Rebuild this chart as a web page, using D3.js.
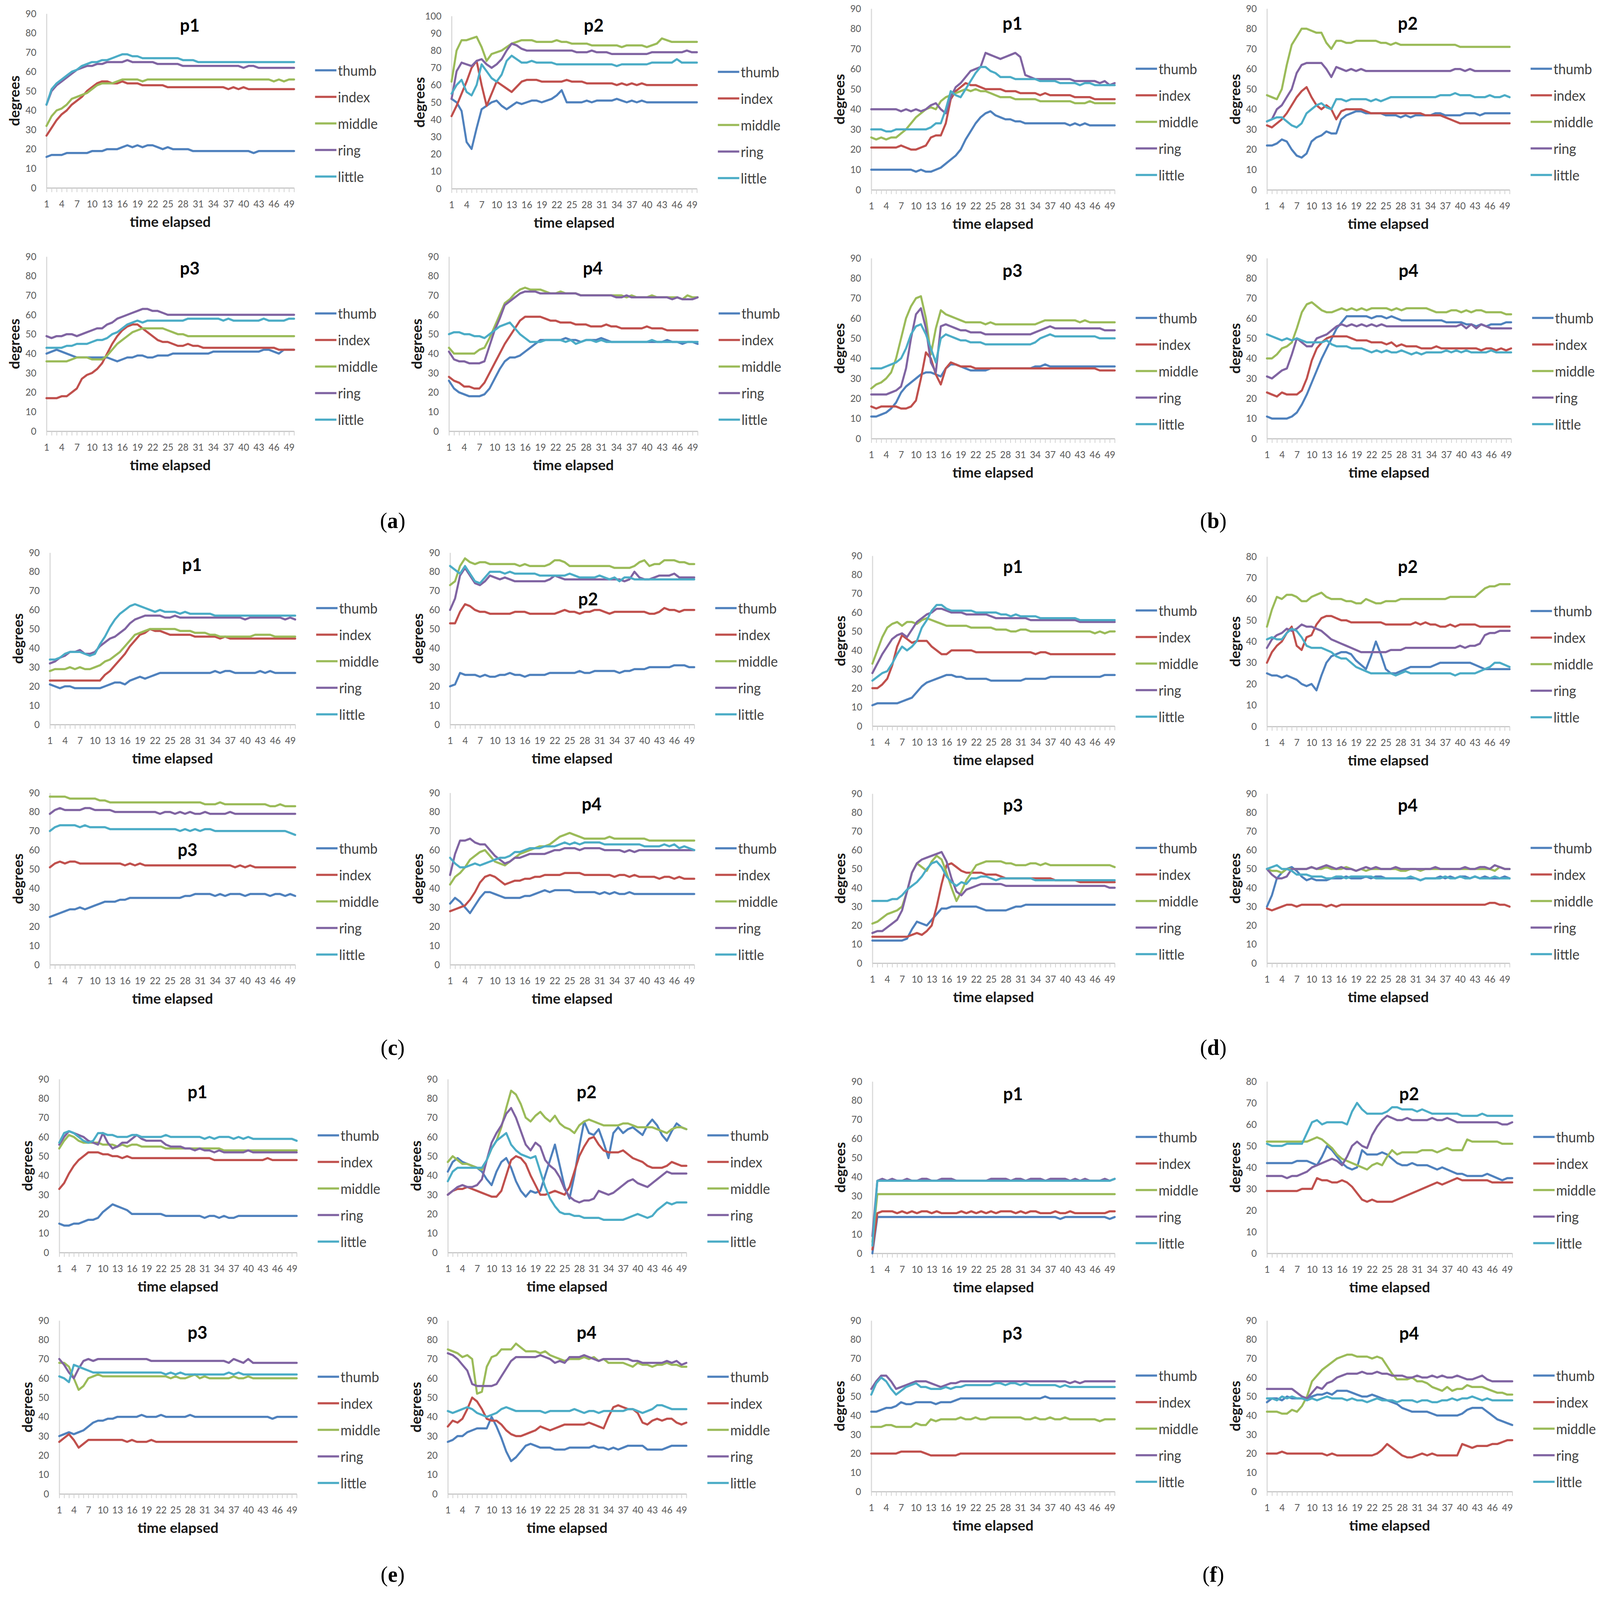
<!DOCTYPE html>
<html>
<head>
<meta charset="utf-8">
<script src="https://cdn.jsdelivr.net/npm/d3@7"></script>
<style>
  html, body { margin: 0; background: #fff; overflow: hidden; }
  svg { display: block; }
</style>
</head>
<body>
<svg id="fig"></svg>
<script>
// ---- categories / labels ----
const categories = [1,2,3,4,5,6,7,8,9,10,11,12,13,14,15,16,17,18,19,20,21,22,23,24,25,
  26,27,28,29,30,31,32,33,34,35,36,37,38,39,40,41,42,43,44,45,46,47,48,49,50];
const tickLabels = [1,4,7,10,13,16,19,22,25,28,31,34,37,40,43,46,49];
const fingers = ["thumb", "index", "middle", "ring", "little"];
const groupLabels = ["a", "b", "c", "d", "e", "f"];

// ---- (a) ----
const a1Thumb  = [16,17,17,17,18,18,18,18,18,19, 19,19,20,20,20,21,22,21,22,21, 22,22,21,20,21,20,20,20,20,19, 19,19,19,19,19,19,19,19,19,19, 19,18,19,19,19,19,19,19,19,19];
const a1Index  = [27,31,35,38,40,43,45,47,50,52, 54,55,55,54,54,55,54,54,54,53, 53,53,53,53,52,52,52,52,52,52, 52,52,52,52,52,52,51,52,51,52, 51,51,51,51,51,51,51,51,51,51];
const a1Middle = [32,37,40,41,43,46,47,48,49,51, 53,54,54,54,55,56,56,56,56,55, 56,56,56,56,56,56,56,56,56,56, 56,56,56,56,56,56,56,56,56,56, 56,56,56,56,56,55,56,55,56,56];
const a1Ring   = [43,50,53,55,57,59,61,62,63,63, 64,64,65,65,65,65,66,65,65,65, 65,65,64,64,64,64,64,63,63,63, 63,63,63,63,63,63,63,63,63,62, 63,63,62,62,62,62,62,62,62,62];
const a1Little = [43,51,54,56,58,60,61,63,64,65, 65,66,66,67,68,69,69,68,68,67, 67,67,67,67,67,67,67,66,66,66, 65,65,65,65,65,65,65,65,65,65, 65,65,65,65,65,65,65,65,65,65];

const a2Thumb  = [52,50,45,27,23,35,46,48,50,51, 48,46,48,50,49,50,51,51,50,51, 52,54,57,50,50,50,50,51,50,51, 51,51,51,52,51,50,51,50,51,50, 50,50,50,50,50,50,50,50,50,50];
const a2Index  = [42,48,55,62,70,74,60,48,55,62, 60,58,56,59,62,63,63,63,62,62, 62,62,62,63,62,62,62,61,61,61, 61,61,61,60,61,60,61,60,61,60, 60,60,60,60,60,60,60,60,60,60];
const a2Middle = [62,80,86,86,87,88,82,74,78,79, 80,82,84,85,86,86,86,85,85,85, 85,86,85,85,84,84,84,84,83,83, 83,83,83,83,82,83,83,83,83,82, 83,84,87,86,85,85,85,85,85,85];
const a2Ring   = [52,68,73,72,71,74,75,72,70,72, 75,80,84,83,81,80,80,80,80,80, 80,80,80,80,80,79,79,79,80,79, 79,79,78,78,78,78,78,78,78,78, 79,79,79,79,79,79,79,80,79,79];
const a2Little = [55,60,63,56,54,60,72,68,64,62, 66,74,77,75,73,73,74,73,73,73, 73,72,72,72,72,72,72,72,72,72, 72,72,72,71,72,72,72,72,72,72, 73,73,73,73,73,75,73,73,73,73];

const a3Thumb  = [40,41,42,41,40,39,38,38,38,38, 38,38,38,37,36,37,38,38,39,39, 38,38,39,39,39,40,40,40,40,40, 40,40,40,41,41,41,41,41,41,41, 41,41,41,42,42,41,40,42,42,42];
const a3Index  = [17,17,17,18,18,20,22,27,29,30, 32,35,40,45,49,52,54,55,55,53, 51,49,47,46,46,45,44,44,45,44, 44,43,43,43,43,43,43,43,43,43, 43,43,43,43,43,43,42,42,42,42];
const a3Middle = [36,36,36,36,36,37,38,38,38,37, 37,37,39,42,45,47,49,51,52,53, 53,53,53,53,52,51,50,50,49,49, 49,49,49,49,49,49,49,49,49,49, 49,49,49,49,49,49,49,49,49,49];
const a3Ring   = [49,48,49,49,50,50,49,50,51,52, 53,53,55,56,58,59,60,61,62,63, 63,62,62,61,60,60,60,60,60,60, 60,60,60,60,60,60,60,60,60,60, 60,60,60,60,60,60,60,60,60,60];
const a3Little = [43,43,43,43,44,44,45,45,45,46, 47,47,48,50,51,53,55,56,57,56, 57,57,57,57,57,57,57,57,58,58, 58,58,58,58,58,57,58,57,57,57, 57,57,57,58,57,57,57,57,58,58];

const a4Thumb  = [26,22,20,19,18,18,18,19,22,27, 32,36,38,38,39,41,43,45,47,47, 47,47,47,48,47,47,46,47,47,47, 48,47,46,46,46,46,46,46,46,46, 46,46,46,47,46,46,45,46,46,45];
const a4Index  = [28,26,25,23,23,22,22,25,30,35, 40,45,49,53,57,59,59,59,59,58, 57,57,56,56,56,55,55,55,54,54, 54,55,54,54,53,53,53,53,53,54, 53,53,53,52,52,52,52,52,52,52];
const a4Middle = [43,40,40,40,40,40,42,43,48,54, 60,66,68,71,73,74,73,73,73,72, 71,71,72,71,71,71,70,70,70,70, 70,70,70,70,70,69,70,69,69,69, 70,69,69,69,69,69,68,70,69,69];
const a4Ring   = [41,37,36,36,35,35,35,36,44,52, 58,65,67,69,71,72,72,72,71,71, 71,71,71,71,71,71,70,70,70,70, 70,70,70,69,69,70,69,69,69,69, 69,69,69,69,68,69,68,68,68,69];
const a4Little = [50,51,51,50,50,49,49,48,50,52, 54,55,56,53,50,48,46,46,46,47, 47,47,47,46,47,45,46,47,47,46, 47,46,46,46,46,46,46,46,46,46, 47,46,46,46,46,46,46,46,46,46];

// ---- (b) ----
const b1Thumb  = [10,10,10,10,10,10,10,10,10,9, 10,9,9,10,11,13,15,17,20,25, 29,33,36,38,39,37,36,35,35,34, 34,33,33,33,33,33,33,33,33,33, 32,33,32,33,32,32,32,32,32,32];
const b1Index  = [21,21,21,21,21,21,22,21,20,20, 21,22,26,27,27,33,45,49,51,53, 52,52,51,50,50,50,50,49,49,49, 48,48,48,48,47,48,47,47,47,47, 47,46,46,46,46,45,45,45,45,45];
const b1Middle = [26,25,26,25,26,26,28,30,33,36, 38,40,41,40,44,46,47,48,49,50, 49,50,49,49,48,47,46,46,46,45, 45,45,45,45,44,44,44,44,44,44, 44,43,43,43,44,43,43,43,43,43];
const b1Ring   = [40,40,40,40,40,40,39,40,39,40, 39,40,42,43,40,38,46,51,53,56, 59,60,61,68,67,66,65,66,67,68, 66,57,56,55,55,55,55,55,55,55, 55,54,54,54,54,54,53,54,52,53];
const b1Little = [30,30,30,29,29,30,30,30,30,30, 30,30,31,33,33,40,49,47,46,50, 54,58,61,61,59,58,56,56,56,55, 55,55,55,55,54,54,54,54,53,53, 53,53,52,53,53,52,52,52,52,52];

const b2Thumb  = [22,22,23,25,24,20,17,16,18,24, 26,27,29,28,28,35,37,38,39,39, 38,38,38,38,37,37,37,36,37,36, 37,37,37,37,38,38,37,37,37,37, 38,38,38,37,38,38,38,38,38,38];
const b2Index  = [32,31,33,35,38,42,46,49,51,46, 42,40,42,40,35,39,40,40,40,40, 39,38,38,38,38,38,38,38,38,38, 38,38,37,37,37,37,36,35,34,33, 33,33,33,33,33,33,33,33,33,33];
const b2Middle = [47,46,45,50,62,72,76,80,80,79, 78,78,73,70,74,74,73,73,74,74, 74,74,74,73,73,72,73,72,72,72, 72,72,72,72,72,72,72,72,72,71, 71,71,71,71,71,71,71,71,71,71];
const b2Ring   = [34,35,40,42,46,50,58,62,63,63, 63,63,60,56,61,60,59,60,59,60, 59,59,59,59,59,59,59,59,59,59, 59,59,59,59,59,59,59,59,60,60, 59,60,59,59,59,59,59,59,59,59];
const b2Little = [34,35,36,36,34,32,31,33,38,40, 42,43,41,40,45,45,44,45,45,45, 45,44,45,44,45,46,46,46,46,46, 46,46,46,46,46,47,47,47,48,47, 47,47,46,46,46,47,46,46,47,46];

const b3Thumb  = [11,11,12,13,15,18,23,26,28,30, 32,33,33,32,31,35,37,37,36,35, 34,34,34,34,35,35,35,35,35,35, 35,35,35,36,36,37,36,36,36,36, 36,36,36,36,36,36,36,36,36,36];
const b3Index  = [16,15,16,16,16,16,15,15,16,19, 30,43,40,32,27,35,38,37,36,36, 36,35,35,35,35,35,35,35,35,35, 35,35,35,35,35,35,35,35,35,35, 35,35,35,35,35,35,34,34,34,34];
const b3Middle = [25,27,28,30,33,40,50,60,66,70, 71,60,42,55,64,62,61,60,59,58, 58,58,58,57,58,57,57,57,57,57, 57,57,57,57,58,59,59,59,59,59, 59,59,58,59,58,58,58,58,58,58];
const b3Ring   = [22,22,22,22,23,24,26,35,50,62, 65,55,38,33,56,57,56,55,54,54, 53,53,53,52,52,52,52,52,52,52, 52,52,52,53,54,55,56,55,55,55, 55,55,55,55,55,55,55,54,54,54];
const b3Little = [35,35,35,36,37,38,40,45,52,56, 57,52,45,38,50,52,51,50,49,49, 48,48,48,47,47,47,47,47,47,47, 47,47,47,48,50,51,52,51,51,51, 51,51,51,51,51,51,50,50,50,50];

const b4Thumb  = [11,10,10,10,10,11,13,17,22,28, 34,40,45,50,55,58,61,61,61,61, 61,60,61,61,60,61,60,59,59,59, 59,59,59,59,59,59,58,58,58,58, 57,57,56,57,56,57,57,57,58,58];
const b4Index  = [23,22,21,23,22,22,22,24,30,39, 45,48,50,51,51,51,51,50,49,49, 49,48,48,48,47,48,46,47,46,46, 46,45,45,45,46,45,45,45,45,45, 45,45,45,44,45,45,44,45,44,45];
const b4Middle = [40,40,42,45,46,48,55,63,67,68, 66,64,63,63,64,65,64,65,64,65, 64,65,65,65,65,64,65,64,65,65, 65,65,65,64,63,63,63,64,64,63, 64,63,64,64,63,63,63,63,62,62];
const b4Ring   = [31,30,32,34,35,42,50,48,46,46, 50,51,52,54,56,57,56,57,56,57, 56,57,56,57,56,56,56,56,56,56, 56,56,56,56,56,56,56,56,56,57, 55,57,55,57,56,55,55,55,55,55];
const b4Little = [52,51,50,49,50,49,50,49,48,48, 48,48,49,47,46,46,46,45,45,45, 44,43,44,43,44,43,43,44,43,42, 43,42,43,43,43,43,44,43,44,43, 44,43,43,43,43,44,43,43,43,43];

// ---- (c) ----
const c1Thumb  = [21,20,19,20,20,19,19,19,19,19, 19,20,21,22,22,21,23,24,25,24, 25,26,27,27,27,27,27,27,27,27, 27,27,27,28,27,28,28,27,27,27, 27,27,28,27,28,27,27,27,27,27];
const c1Index  = [23,23,23,23,23,23,23,23,23,23, 23,26,28,31,34,37,41,44,47,48, 50,49,49,48,47,47,47,47,47,46, 46,46,46,46,45,46,45,45,45,45, 45,45,45,45,45,45,45,45,45,45];
const c1Middle = [28,29,29,29,30,29,30,29,29,30, 31,33,34,36,38,41,44,47,48,49, 50,50,50,50,50,50,49,49,49,48, 48,48,47,47,46,46,46,46,46,46, 46,47,47,47,47,46,46,46,46,46];
const c1Ring   = [32,33,35,36,38,38,39,37,37,38, 41,43,45,46,48,50,53,55,56,57, 57,57,57,56,56,57,56,56,56,56, 56,56,56,56,56,56,56,56,56,55, 56,56,56,56,56,56,56,55,56,55];
const c1Little = [34,34,35,37,38,38,38,37,36,37, 42,46,51,55,58,60,62,63,62,61, 60,59,60,59,59,59,58,59,58,58, 58,58,58,57,57,57,57,57,57,57, 57,57,57,57,57,57,57,57,57,57];

const c2Thumb  = [20,21,27,26,26,26,25,26,25,25, 26,26,27,26,26,25,26,26,26,26, 27,27,27,27,27,27,28,27,27,28, 28,28,28,28,27,28,28,29,29,29, 30,30,30,30,30,31,31,31,30,30];
const c2Index  = [53,53,59,63,62,60,59,59,58,58, 58,58,58,59,59,59,58,58,58,58, 58,58,59,60,59,59,58,59,59,60, 60,59,58,59,59,59,59,59,59,59, 58,58,59,61,60,60,59,60,60,60];
const c2Middle = [73,75,83,87,85,84,85,85,84,84, 84,84,84,84,83,84,83,83,83,83, 84,86,86,85,83,83,83,83,83,83, 83,83,83,82,82,82,82,83,85,86, 83,84,84,86,86,86,85,85,84,84];
const c2Ring   = [60,66,78,82,78,74,73,75,78,77, 76,77,76,75,75,75,75,75,75,75, 76,78,77,76,76,76,76,76,76,76, 76,76,76,76,76,75,76,80,77,76, 76,77,78,78,78,79,77,77,77,77];
const c2Little = [83,81,79,83,79,75,74,77,80,80, 80,79,80,79,79,79,79,79,78,78, 78,78,78,78,79,78,77,77,77,77, 78,77,76,77,75,77,77,76,76,76, 76,76,76,76,76,76,76,76,76,76];

const c3Thumb  = [25,26,27,28,29,29,30,29,30,31, 32,33,33,33,34,34,35,35,35,35, 35,35,35,35,35,35,35,36,36,37, 37,37,37,36,37,36,37,37,37,36, 37,37,37,37,36,37,37,36,37,36];
const c3Index  = [51,53,54,53,54,54,53,53,53,53, 53,53,53,53,53,52,53,52,53,52, 52,52,52,52,52,52,52,52,52,52, 52,52,52,52,52,52,52,51,52,51, 52,51,51,51,51,51,51,51,51,51];
const c3Middle = [88,88,88,88,87,87,87,87,87,87, 86,86,85,85,85,85,85,85,85,85, 85,85,85,85,85,85,85,85,85,85, 85,84,84,84,85,84,84,84,84,84, 84,84,84,84,83,83,84,83,83,83];
const c3Ring   = [79,81,82,81,81,81,81,82,82,81, 81,81,81,80,80,80,80,80,80,80, 80,80,79,80,80,79,80,79,80,79, 79,80,79,79,79,79,80,79,79,79, 79,79,79,79,79,79,79,79,79,79];
const c3Little = [70,72,73,73,73,73,72,73,72,72, 72,72,71,71,71,71,71,71,71,71, 71,71,71,71,71,71,70,71,70,71, 70,71,71,70,70,70,70,70,70,70, 70,70,70,70,70,70,70,70,69,68];

const c4Thumb  = [32,35,33,30,27,31,35,38,38,37, 36,35,35,35,35,36,36,37,38,39, 38,39,39,39,39,38,38,38,38,38, 37,38,37,38,37,37,38,37,37,37, 37,37,37,37,37,37,37,37,37,37];
const c4Index  = [28,29,30,31,34,38,43,46,47,46, 44,42,43,44,44,45,45,46,46,47, 47,47,47,48,48,48,48,47,47,47, 47,47,47,46,47,47,46,47,46,46, 46,46,45,46,46,45,46,45,45,45];
const c4Middle = [42,46,48,51,55,57,59,60,57,54, 53,52,54,56,58,59,60,61,62,62, 63,65,67,68,69,68,67,66,66,66, 66,66,67,66,66,66,66,66,66,66, 65,65,65,65,65,65,65,65,65,65];
const c4Ring   = [47,58,65,65,66,64,63,63,60,57, 55,53,54,56,56,57,58,58,58,58, 59,60,60,61,61,61,60,61,61,61, 61,60,60,60,60,59,60,59,60,60, 60,60,60,60,60,60,60,60,60,60];
const c4Little = [56,53,51,51,52,53,52,53,54,55, 56,56,57,59,59,60,61,61,61,62, 62,62,63,64,63,64,63,64,64,64, 64,63,63,63,63,63,63,63,63,62, 62,62,62,63,62,63,61,62,61,60];

// ---- (d) ----
const d1Thumb  = [11,12,12,12,12,12,13,14,15,18, 21,23,24,25,26,27,27,26,26,25, 25,25,25,25,24,24,24,24,24,24, 24,25,25,25,25,25,26,26,26,26, 26,26,26,26,26,26,26,27,27,27];
const d1Index  = [20,20,22,25,32,42,48,46,44,45, 45,45,42,40,38,38,40,40,40,40, 40,39,39,39,39,39,39,39,39,39, 39,39,39,38,39,39,38,38,38,38, 38,38,38,38,38,38,38,38,38,38];
const d1Middle = [33,40,47,52,54,55,53,55,55,54, 56,57,56,55,54,53,53,53,53,53, 52,52,52,52,52,51,51,51,50,50, 51,51,50,50,50,50,50,50,50,50, 50,50,50,50,50,49,50,49,50,50];
const d1Ring   = [28,33,38,42,46,48,49,47,51,55, 57,59,60,62,62,61,60,60,60,59, 59,59,59,59,58,57,57,57,57,57, 57,57,56,56,56,56,56,56,56,56, 56,56,55,55,55,55,55,55,55,55];
const d1Little = [24,26,28,29,33,38,42,40,42,45, 52,56,61,64,64,62,61,61,61,61, 61,60,60,60,60,60,59,59,58,59, 58,58,58,58,57,57,57,57,57,57, 57,57,56,56,56,56,56,56,56,56];

const d2Thumb  = [25,24,24,23,24,23,22,20,19,20, 17,24,30,33,34,35,35,34,31,29, 27,33,40,34,27,25,25,26,27,28, 28,28,28,28,29,30,30,30,30,30, 30,30,29,28,27,27,27,27,27,27];
const d2Index  = [30,35,38,40,44,47,38,36,42,43, 48,51,52,52,51,50,50,49,49,49, 49,49,49,49,48,48,48,48,48,48, 49,48,49,48,48,47,47,48,47,48, 48,48,48,47,47,47,47,47,47,47];
const d2Middle = [47,55,61,60,62,62,61,59,59,61, 62,63,61,60,60,60,59,59,58,58, 60,59,58,58,59,59,59,60,60,60, 60,60,60,60,60,60,60,61,61,61, 61,61,61,63,65,66,66,67,67,67];
const d2Ring   = [37,41,43,44,46,45,46,48,47,47, 46,45,43,41,40,39,38,37,36,35, 35,35,35,35,35,36,36,36,37,37, 37,37,37,37,37,37,37,37,37,38, 37,38,38,39,43,44,44,45,45,45];
const d2Little = [41,42,41,41,44,46,45,42,38,37, 37,37,36,35,33,32,32,30,28,27, 26,25,25,25,25,25,24,25,26,25, 25,25,25,25,25,25,25,25,24,25, 25,25,25,26,27,28,30,30,29,28];

const d3Thumb  = [12,12,12,12,12,12,12,13,18,22, 21,20,23,26,29,29,30,30,30,30, 30,30,29,28,28,28,28,28,29,30, 30,31,31,31,31,31,31,31,31,31, 31,31,31,31,31,31,31,31,31,31];
const d3Index  = [14,14,14,14,14,14,14,14,15,16, 15,17,20,30,42,52,53,51,49,48, 48,48,48,47,47,47,46,45,45,45, 45,45,45,45,45,45,45,44,44,44, 44,44,43,43,43,43,43,43,43,43];
const d3Middle = [21,22,24,26,27,28,30,38,48,53, 51,49,54,57,55,48,40,33,38,44, 48,52,53,54,54,54,54,53,53,52, 52,52,53,53,52,53,52,52,52,52, 52,52,52,52,52,52,52,52,52,51];
const d3Ring   = [16,17,17,19,21,23,28,38,48,53, 55,56,57,58,59,54,45,38,36,39, 40,41,42,42,42,42,42,41,41,41, 41,41,41,41,41,41,41,41,41,41, 41,41,41,41,41,41,41,41,40,40];
const d3Little = [33,33,33,33,34,34,36,39,41,43, 46,50,53,54,51,46,43,41,43,42, 45,45,46,46,45,44,45,45,45,45, 45,45,45,44,44,44,44,44,44,44, 44,44,44,44,44,44,44,44,44,44];

const d4Thumb  = [30,36,45,48,50,51,49,46,44,45, 44,44,44,45,45,45,46,45,45,45, 46,45,46,46,45,45,45,45,45,45, 45,44,45,45,45,46,45,46,45,46, 46,45,46,45,46,45,45,45,46,45];
const d4Index  = [29,28,29,30,31,31,30,31,31,31, 31,31,30,31,30,31,31,31,31,31, 31,31,31,31,31,31,31,31,31,31, 31,31,31,31,31,31,31,31,31,31, 31,31,31,31,31,32,32,31,31,30];
const d4Middle = [50,49,49,48,50,50,50,50,50,51, 50,50,51,50,50,50,51,50,49,50, 49,50,50,50,50,50,50,49,49,50, 50,49,50,50,50,50,50,50,50,50, 50,50,50,50,50,50,49,51,50,50];
const d4Ring   = [50,47,45,45,46,50,50,50,50,51, 50,51,52,51,50,51,50,50,49,50, 51,50,51,50,50,50,51,50,50,50, 50,50,50,50,51,50,50,50,50,50, 51,50,50,51,51,50,52,51,50,50];
const d4Little = [50,51,52,50,50,49,47,47,47,46, 46,46,45,45,46,46,45,46,46,46, 46,46,45,45,45,45,45,45,45,46, 45,44,45,45,45,45,46,45,45,46, 45,45,46,45,45,45,46,45,45,45];

// ---- (e) ----
const e1Thumb  = [15,14,14,15,15,16,17,17,18,21, 23,25,24,23,22,20,20,20,20,20, 20,20,19,19,19,19,19,19,19,19, 18,19,19,18,19,18,18,19,19,19, 19,19,19,19,19,19,19,19,19,19];
const e1Index  = [33,36,41,45,48,50,52,52,52,51, 51,50,50,49,50,49,49,49,49,49, 49,49,49,49,49,49,49,49,49,49, 49,49,48,48,48,48,48,48,48,48, 48,48,48,49,48,48,48,48,48,48];
const e1Middle = [54,58,61,60,58,57,57,57,57,56, 56,56,55,56,55,56,56,55,55,55, 55,55,54,54,54,54,54,54,54,54, 54,54,54,54,53,53,53,53,53,53, 53,53,53,53,53,53,53,53,53,53];
const e1Ring   = [56,60,63,62,61,60,58,57,56,62, 57,54,55,57,57,59,61,59,58,58, 58,58,56,55,55,55,54,54,53,54, 53,53,52,53,52,52,52,52,52,53, 52,52,52,52,52,52,52,52,52,52];
const e1Little = [57,62,63,62,60,58,57,58,62,62, 61,61,60,60,60,61,61,60,60,60, 60,60,61,60,60,60,60,60,60,60, 59,60,59,60,60,60,59,60,59,60, 59,59,59,59,59,59,59,59,59,58];

const e2Thumb  = [42,47,49,47,46,45,44,42,38,35, 42,47,49,44,37,32,29,32,31,32, 40,48,56,45,34,28,40,55,68,62, 61,64,57,49,62,65,62,64,65,63, 61,66,69,66,61,58,63,67,65,64];
const e2Index  = [30,32,33,33,34,33,32,31,30,29, 29,32,40,48,50,49,46,40,35,30, 30,31,32,31,30,34,42,50,55,59, 60,56,53,52,52,52,53,51,49,48, 47,45,44,44,44,45,47,46,45,45];
const e2Middle = [47,50,48,46,46,45,44,43,48,54, 58,65,75,84,82,77,70,68,71,73, 70,68,71,67,65,64,62,66,68,69, 68,67,66,66,66,66,67,67,66,65, 65,65,65,64,63,62,64,65,65,64];
const e2Ring   = [30,32,34,35,34,34,35,38,48,57, 62,66,72,75,70,63,56,53,57,55, 48,45,43,39,33,29,27,26,27,27, 28,32,31,30,31,33,35,37,38,36, 35,34,36,38,40,42,41,41,41,41];
const e2Little = [37,42,44,44,44,44,44,44,48,54, 58,60,62,56,53,51,50,49,50,42, 34,28,24,21,20,20,19,19,18,18, 18,18,17,17,17,17,17,18,19,20, 19,18,19,22,24,26,25,26,26,26];

const e3Thumb  = [30,31,32,31,32,33,35,37,38,38, 39,39,40,40,40,40,40,41,40,40, 40,41,40,40,40,40,40,41,40,40, 40,40,40,40,40,40,40,40,40,40, 40,40,40,40,39,40,40,40,40,40];
const e3Index  = [27,29,31,28,24,26,28,28,28,28, 28,28,28,28,27,28,27,27,27,28, 27,27,27,27,27,27,27,27,27,27, 27,27,27,27,27,27,27,27,27,27, 27,27,27,27,27,27,27,27,27,27];
const e3Middle = [68,68,66,60,54,56,60,61,62,61, 61,61,61,61,61,61,61,61,61,61, 61,61,61,60,61,60,60,61,62,60, 61,60,60,60,60,60,61,60,60,61, 60,60,60,60,60,60,60,60,60,60];
const e3Ring   = [70,67,63,60,65,69,70,69,70,70, 70,70,70,70,70,70,70,70,70,69, 69,69,69,69,69,69,69,69,69,69, 69,69,69,69,69,68,70,69,68,70, 68,68,68,68,68,68,68,68,68,68];
const e3Little = [61,60,58,67,66,65,64,63,63,63, 63,63,63,63,63,63,63,63,63,63, 63,63,62,63,62,63,62,62,62,62, 62,62,62,62,62,63,62,63,62,62, 62,62,62,62,62,62,62,62,62,62];

const e4Thumb  = [27,28,30,30,32,33,34,34,34,40, 35,29,22,17,19,22,25,26,25,24, 24,24,23,23,23,24,24,24,24,24, 25,24,24,23,24,23,24,25,25,25, 25,23,23,23,23,24,25,25,25,25];
const e4Index  = [35,38,37,39,44,50,48,44,39,38, 38,36,33,31,30,30,31,32,33,35, 34,33,34,35,36,36,36,36,36,37, 36,35,34,40,45,46,45,44,44,42, 37,36,38,39,38,39,39,37,36,37];
const e4Middle = [75,74,73,71,72,70,52,53,66,71, 72,75,75,75,78,76,74,74,74,73, 74,72,71,70,69,70,70,70,71,70, 71,69,70,68,68,68,68,67,66,68, 67,67,66,67,67,68,67,67,66,66];
const e4Ring   = [73,72,70,67,64,57,56,56,56,56, 57,61,65,69,71,71,71,71,71,72, 71,70,68,69,68,71,71,71,72,71, 70,69,70,70,70,70,70,70,69,69, 68,68,68,68,68,69,68,69,67,68];
const e4Little = [43,42,43,44,45,44,42,41,40,41, 42,44,45,44,43,43,43,43,43,43, 42,43,43,43,43,43,44,43,42,43, 43,42,43,43,43,43,43,44,44,43, 42,43,44,46,46,45,44,44,44,44];

// ---- (f) ----
const f1Thumb  = [0,19,19,19,19,19,19,19,19,19, 19,19,19,19,19,19,19,19,19,19, 19,19,19,19,19,19,19,19,19,19, 19,19,19,19,19,19,19,19,18,19, 19,19,19,19,19,19,19,19,18,19];
const f1Index  = [2,21,22,22,22,21,22,21,22,21, 22,22,21,22,21,21,21,21,22,21, 22,21,22,21,22,21,22,22,22,21, 22,21,22,22,21,21,21,22,21,21, 22,21,21,21,21,21,21,21,22,22];
const f1Middle = [6,31,31,31,31,31,31,31,31,31, 31,31,31,31,31,31,31,31,31,31, 31,31,31,31,31,31,31,31,31,31, 31,31,31,31,31,31,31,31,31,31, 31,31,31,31,31,31,31,31,31,31];
const f1Ring   = [9,38,39,38,39,38,38,39,38,38, 39,39,38,38,39,39,39,38,38,38, 38,38,38,38,39,39,39,39,38,39, 39,38,39,39,39,38,39,39,39,39, 38,39,38,39,38,38,38,39,38,39];
const f1Little = [4,38,38,38,38,38,38,38,38,38, 38,38,38,38,38,38,38,38,38,38, 38,38,38,38,38,38,38,38,38,38, 38,38,38,38,38,38,38,38,38,38, 38,38,38,38,38,38,38,38,38,39];

const f2Thumb  = [42,42,42,42,42,42,43,43,43,42, 41,45,50,48,45,42,40,39,40,48, 46,46,46,47,46,44,42,41,41,42, 41,41,41,40,39,40,39,38,37,37, 36,36,36,36,37,36,35,34,35,35];
const f2Index  = [29,29,29,29,29,29,29,30,30,30, 35,34,34,33,33,34,33,31,28,25, 24,25,24,24,24,24,25,26,27,28, 29,30,31,32,33,32,33,34,35,34, 34,34,34,34,34,33,33,33,33,33];
const f2Middle = [52,52,52,52,52,52,52,52,52,53, 54,53,51,49,46,44,43,42,41,40, 39,41,42,41,45,48,46,47,47,47, 47,48,48,48,47,48,49,48,48,48, 53,52,52,52,52,52,52,51,51,51];
const f2Ring   = [36,36,36,36,35,36,36,37,38,40, 41,42,43,44,43,41,45,50,52,50, 49,55,59,62,64,63,62,62,63,62, 62,62,62,63,62,62,63,62,61,61, 61,61,61,61,61,61,61,60,60,61];
const f2Little = [51,50,50,50,51,51,51,51,56,61, 62,60,61,61,61,61,60,66,70,67, 65,65,65,65,66,68,68,67,67,67, 66,67,66,65,65,65,65,65,65,64, 64,64,64,65,64,64,64,64,64,64];

const f3Thumb  = [42,42,43,44,44,45,47,46,46,47, 47,47,47,46,47,47,47,48,49,49, 49,49,49,49,49,49,49,49,49,49, 49,49,49,49,49,50,49,49,49,49, 49,49,49,49,49,49,49,49,49,49];
const f3Index  = [20,20,20,20,20,20,21,21,21,21, 21,20,19,19,19,19,19,19,20,20, 20,20,20,20,20,20,20,20,20,20, 20,20,20,20,20,20,20,20,20,20, 20,20,20,20,20,20,20,20,20,20];
const f3Middle = [34,34,34,35,35,34,34,34,34,36, 35,35,38,37,38,38,38,38,39,38, 38,39,38,38,39,39,39,39,39,39, 39,38,38,39,38,38,39,38,38,39, 38,38,38,38,38,38,37,38,38,38];
const f3Ring   = [54,58,61,61,58,54,55,56,57,58, 58,58,57,56,55,56,57,57,58,58, 58,58,58,58,58,58,58,58,58,58, 58,58,58,58,58,58,58,58,58,58, 57,58,57,58,58,58,58,58,58,58];
const f3Little = [51,57,60,58,54,51,53,55,56,57, 55,55,54,54,54,55,54,55,55,56, 56,56,56,56,56,57,57,56,57,57, 56,57,56,56,56,56,56,56,55,56, 55,55,55,55,55,55,55,55,55,55];

const f4Thumb  = [47,49,49,48,50,49,49,49,49,50, 51,51,52,51,53,53,53,52,51,50, 50,51,50,49,48,47,46,44,43,42, 42,42,42,41,40,40,40,40,40,41, 43,44,44,44,42,40,38,37,36,35];
const f4Index  = [20,20,20,21,20,20,20,20,20,20, 20,20,19,20,19,19,19,19,19,19, 19,19,20,22,25,23,21,19,18,18, 19,20,19,20,19,19,19,19,19,25, 24,23,24,24,24,25,25,26,27,27];
const f4Middle = [42,42,42,41,41,43,42,45,50,58, 61,64,66,68,70,71,72,72,71,71, 71,70,71,70,66,62,59,59,59,60, 58,58,57,55,54,53,55,53,54,54, 56,55,55,55,54,53,52,52,51,51];
const f4Ring   = [54,54,54,54,54,54,52,50,49,52, 55,54,57,58,60,61,62,62,62,63, 62,62,63,62,62,61,61,61,60,60, 61,60,60,61,60,61,60,60,61,60, 59,59,60,61,59,58,58,58,58,58];
const f4Little = [49,49,48,50,49,50,49,49,48,49, 48,49,50,49,49,49,48,49,48,48, 47,48,49,48,48,48,47,48,48,48, 47,48,48,47,47,48,48,49,48,49, 49,50,49,48,49,48,48,48,48,48];

// ---- layout (pixel positions of each plot box, in reference pixels) ----
const panels = [
  { title: "p1", L: 124,  T: 35,   R: 784,  B: 481,  yMax: 90,  ty: 81,   series: [a1Thumb, a1Index, a1Middle, a1Ring, a1Little] },
  { title: "p2", L: 1204, T: 41,   R: 1858, B: 483,  yMax: 100, ty: 81,   series: [a2Thumb, a2Index, a2Middle, a2Ring, a2Little] },
  { title: "p3", L: 124,  T: 657,  R: 784,  B: 1104, yMax: 90,  ty: 703,  series: [a3Thumb, a3Index, a3Middle, a3Ring, a3Little] },
  { title: "p4", L: 1197, T: 657,  R: 1860, B: 1104, yMax: 90,  ty: 703,  series: [a4Thumb, a4Index, a4Middle, a4Ring, a4Little] },

  { title: "p1", L: 2323, T: 22,   R: 2972, B: 486,  yMax: 90,  ty: 76,   series: [b1Thumb, b1Index, b1Middle, b1Ring, b1Little] },
  { title: "p2", L: 3378, T: 22,   R: 4025, B: 486,  yMax: 90,  ty: 76,   series: [b2Thumb, b2Index, b2Middle, b2Ring, b2Little] },
  { title: "p3", L: 2323, T: 661,  R: 2972, B: 1123, yMax: 90,  ty: 709,  series: [b3Thumb, b3Index, b3Middle, b3Ring, b3Little] },
  { title: "p4", L: 3378, T: 661,  R: 4029, B: 1123, yMax: 90,  ty: 709,  series: [b4Thumb, b4Index, b4Middle, b4Ring, b4Little] },

  { title: "p1", L: 133,  T: 1415, R: 787,  B: 1855, yMax: 90,  ty: 1462, series: [c1Thumb, c1Index, c1Middle, c1Ring, c1Little] },
  { title: "p2", L: 1200, T: 1415, R: 1851, B: 1855, yMax: 90,  ty: 1550, tx: 1568, series: [c2Thumb, c2Index, c2Middle, c2Ring, c2Little] },
  { title: "p3", L: 133,  T: 2030, R: 787,  B: 2470, yMax: 90,  ty: 2192, tx: 500,  series: [c3Thumb, c3Index, c3Middle, c3Ring, c3Little] },
  { title: "p4", L: 1200, T: 2030, R: 1851, B: 2470, yMax: 90,  ty: 2075, series: [c4Thumb, c4Index, c4Middle, c4Ring, c4Little] },

  { title: "p1", L: 2326, T: 1423, R: 2972, B: 1859, yMax: 90,  ty: 1467, series: [d1Thumb, d1Index, d1Middle, d1Ring, d1Little] },
  { title: "p2", L: 3378, T: 1425, R: 4025, B: 1860, yMax: 80,  ty: 1467, series: [d2Thumb, d2Index, d2Middle, d2Ring, d2Little] },
  { title: "p3", L: 2326, T: 2032, R: 2972, B: 2466, yMax: 90,  ty: 2078, series: [d3Thumb, d3Index, d3Middle, d3Ring, d3Little] },
  { title: "p4", L: 3378, T: 2032, R: 4025, B: 2466, yMax: 90,  ty: 2078, series: [d4Thumb, d4Index, d4Middle, d4Ring, d4Little] },

  { title: "p1", L: 158,  T: 2763, R: 791,  B: 3207, yMax: 90,  ty: 2812, series: [e1Thumb, e1Index, e1Middle, e1Ring, e1Little] },
  { title: "p2", L: 1194, T: 2763, R: 1830, B: 3207, yMax: 90,  ty: 2812, series: [e2Thumb, e2Index, e2Middle, e2Ring, e2Little] },
  { title: "p3", L: 158,  T: 3381, R: 791,  B: 3825, yMax: 90,  ty: 3428, series: [e3Thumb, e3Index, e3Middle, e3Ring, e3Little] },
  { title: "p4", L: 1194, T: 3381, R: 1830, B: 3825, yMax: 90,  ty: 3428, series: [e4Thumb, e4Index, e4Middle, e4Ring, e4Little] },

  { title: "p1", L: 2326, T: 2769, R: 2972, B: 3209, yMax: 90,  ty: 2817, series: [f1Thumb, f1Index, f1Middle, f1Ring, f1Little] },
  { title: "p2", L: 3378, T: 2769, R: 4032, B: 3209, yMax: 80,  ty: 2817, series: [f2Thumb, f2Index, f2Middle, f2Ring, f2Little] },
  { title: "p3", L: 2323, T: 3381, R: 2972, B: 3819, yMax: 90,  ty: 3430, series: [f3Thumb, f3Index, f3Middle, f3Ring, f3Little] },
  { title: "p4", L: 3378, T: 3381, R: 4032, B: 3819, yMax: 90,  ty: 3430, series: [f4Thumb, f4Index, f4Middle, f4Ring, f4Little] },
];
const labelPos = [[1047, 1352], [3235, 1352], [1047, 2701], [3235, 2701], [1047, 4050], [3235, 4050]];

const color = d3.scaleOrdinal()
  .domain(fingers)
  .range(["#4f81bd", "#c0504d", "#9bbb59", "#8064a2", "#4bacc6"]);

const FONT = "Lato, 'Open Sans', sans-serif";
const W = 4266, H = 4089;

// the browser viewport can be narrower than the figure, so draw in
// reference pixels and let the viewBox fit it to the window
const svg = d3.select("#fig")
  .attr("viewBox", `0 0 ${W} ${H}`)
  .attr("preserveAspectRatio", "none")
  .attr("width", window.innerWidth || W)
  .attr("height", window.innerHeight || H);
svg.append("rect").attr("width", W).attr("height", H).attr("fill", "#fff");

function drawPanel(p) {
  const g = svg.append("g");

  const x = d3.scalePoint().domain(categories).range([p.L, p.R]);
  const y = d3.scaleLinear().domain([0, p.yMax]).range([p.B, p.T]);

  // y axis
  const yAxis = g.append("g")
    .attr("transform", `translate(${p.L},0)`)
    .call(d3.axisLeft(y).tickValues(d3.range(0, p.yMax + 1, 10)).tickSize(0).tickSizeOuter(0).tickPadding(27));
  yAxis.select(".domain").attr("stroke", "#d9d9d9").attr("stroke-width", 3);
  yAxis.selectAll("text")
    .attr("font-family", FONT).attr("font-size", 25).attr("fill", "#595959");

  // x axis: tick marks on every category
  const xMarks = g.append("g")
    .attr("transform", `translate(0,${p.B})`)
    .call(d3.axisBottom(x).tickValues(categories).tickSize(11).tickSizeOuter(0).tickFormat(""));
  xMarks.select(".domain").attr("stroke", "#c8c8c8").attr("stroke-width", 3);
  xMarks.selectAll(".tick line").attr("stroke", "#d0d0d0").attr("stroke-width", 2);

  // x axis: labels every third category
  const xLabels = g.append("g")
    .attr("transform", `translate(0,${p.B})`)
    .call(d3.axisBottom(x).tickValues(tickLabels).tickSize(0).tickSizeOuter(0).tickPadding(32));
  xLabels.select(".domain").remove();
  xLabels.selectAll("text")
    .attr("font-family", FONT).attr("font-size", 25).attr("fill", "#595959");

  // lines
  const line = d3.line()
    .x((d, i) => x(categories[i]))
    .y(d => y(d));

  g.selectAll("path.series")
    .data(p.series)
    .join("path")
    .attr("class", "series")
    .attr("d", d => line(d))
    .attr("fill", "none")
    .attr("stroke", (d, i) => color(fingers[i]))
    .attr("stroke-width", 5.5)
    .attr("stroke-linejoin", "round")
    .attr("stroke-linecap", "round");

  // title
  g.append("text")
    .attr("x", p.tx !== undefined ? p.tx : (p.L + p.R) / 2 + 52)
    .attr("y", p.ty)
    .attr("text-anchor", "middle")
    .attr("font-family", FONT).attr("font-weight", "bold").attr("font-size", 46)
    .attr("fill", "#000")
    .text(p.title);

  // axis titles
  g.append("text")
    .attr("x", (p.L + p.R) / 2)
    .attr("y", p.B + 100)
    .attr("text-anchor", "middle")
    .attr("font-family", FONT).attr("font-weight", "bold").attr("font-size", 36)
    .attr("textLength", 216).attr("lengthAdjust", "spacingAndGlyphs")
    .attr("fill", "#1a1a1a")
    .text("time elapsed");

  g.append("text")
    .attr("transform", `translate(${p.L - 86},${(p.T + p.B) / 2}) rotate(-90)`)
    .attr("text-anchor", "middle")
    .attr("dominant-baseline", "central")
    .attr("font-family", FONT).attr("font-weight", "bold").attr("font-size", 37)
    .attr("fill", "#1a1a1a")
    .text("degrees");

  // legend
  const mid = (p.T + p.B) / 2 + 58;
  const legend = g.selectAll("g.legend")
    .data(fingers)
    .join("g")
    .attr("class", "legend")
    .attr("transform", (d, i) => `translate(${p.R + 56},${mid + (i - 2) * 68})`);
  legend.append("line")
    .attr("x1", 0).attr("x2", 57)
    .attr("stroke", d => color(d))
    .attr("stroke-width", 5.5);
  legend.append("text")
    .attr("x", 61)
    .attr("dominant-baseline", "central")
    .attr("font-family", FONT).attr("font-size", 36)
    .attr("fill", "#404040")
    .text(d => d);
}

panels.forEach(drawPanel);

// group labels (a) ... (f)
groupLabels.forEach((lab, i) => {
  const t = svg.append("text")
    .attr("x", labelPos[i][0])
    .attr("y", labelPos[i][1])
    .attr("text-anchor", "middle")
    .attr("font-family", "'Liberation Serif', serif")
    .attr("font-size", 58)
    .attr("fill", "#000");
  t.append("tspan").text("(");
  t.append("tspan").attr("font-weight", "bold").text(lab);
  t.append("tspan").text(")");
});
</script>
</body>
</html>
